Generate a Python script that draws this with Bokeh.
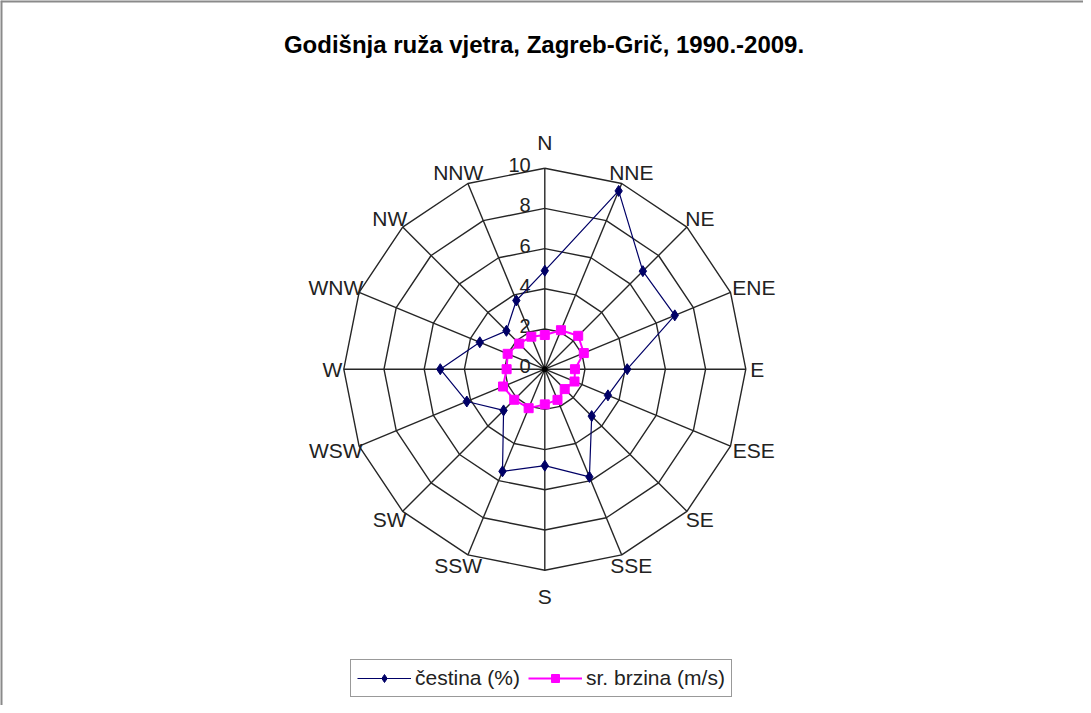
import numpy as np
from bokeh.plotting import figure
from bokeh.models import Range1d, Label, Legend, LegendItem, Span
from bokeh.core.properties import value
from bokeh.embed import file_html
from bokeh.resources import INLINE

# ---- data ----
directions = ["N", "NNE", "NE", "ENE", "E", "ESE", "SE", "SSE",
              "S", "SSW", "SW", "WSW", "W", "WNW", "NW", "NNW"]
cestina = [4.9, 9.6, 6.9, 7.0, 4.1, 3.4, 3.3, 5.8,
           4.8, 5.5, 2.9, 4.2, 5.2, 3.5, 2.7, 3.7]
brzina = [1.7, 2.1, 2.35, 2.1, 1.5, 1.6, 1.4, 1.65,
          1.75, 2.1, 2.15, 2.25, 1.9, 2.0, 1.8, 1.75]
ticks = [0, 2, 4, 6, 8, 10]
title_text = "Godišnja ruža vjetra, Zagreb-Grič, 1990.-2009."
series_names = ["čestina (%)", "sr. brzina (m/s)"]

# ---- layout ----
W, H = 1083, 705
PX = 20.1            # pixels per unit
cx_px, cy_px = 544.3, 368.7   # center in figure pixels (from left, from top)
rmax = ticks[-1]

x0 = -cx_px / PX
x1 = (W - cx_px) / PX
y1 = cy_px / PX
y0 = -(H - cy_px) / PX

p = figure(width=W, height=H, output_backend="svg", toolbar_location=None,
           x_range=Range1d(x0, x1), y_range=Range1d(y0, y1),
           min_border=0, background_fill_color="white", border_fill_color="white")
p.xaxis.visible = False
p.yaxis.visible = False
p.grid.visible = False
p.outline_line_color = None

n = len(directions)
theta = np.arange(n) * 2 * np.pi / n   # clockwise from north
sx, sy = np.sin(theta), np.cos(theta)

grid_col = "#262626"
ring_xs, ring_ys = [], []
for t in ticks[1:]:
    ring_xs.append(list(np.append(sx * t, sx[0] * t)))
    ring_ys.append(list(np.append(sy * t, sy[0] * t)))
p.multi_line(ring_xs, ring_ys, line_color=grid_col, line_width=1.4)
p.segment(x0=np.zeros(n), y0=np.zeros(n), x1=sx * rmax, y1=sy * rmax,
          line_color=grid_col, line_width=1.4)

# tick labels along the north spoke
p.text(x=[-0.7] * len(ticks), y=[t + 0.15 for t in ticks], text=[str(t) for t in ticks],
       text_align="right", text_baseline="middle", text_font=value("Liberation Sans"),
       text_font_size="20px", text_color="#222222")

# direction labels
lab_font = 21
char_w = 0.66 * lab_font
half_h = 0.36 * lab_font
lx, ly = [], []
for i, d in enumerate(directions):
    gap = 0.22 + (0.7 if abs(sy[i]) > 0.99 else 0.0)
    hw = len(d) * char_w / 2 / PX
    hh = half_h / PX
    lx.append(sx[i] * (rmax + gap) + sx[i] * hw)
    ly.append(sy[i] * (rmax + gap) + sy[i] * hh)
p.text(x=lx, y=ly, text=directions, text_align="center", text_baseline="middle",
       text_font=value("Liberation Sans"), text_font_size=f"{lab_font}px", text_color="#222222")

# series
c = np.array(cestina)
b = np.array(brzina)
cx_ = list(np.append(c * sx, c[0] * sx[0]))
cy_ = list(np.append(c * sy, c[0] * sy[0]))
bx_ = list(np.append(b * sx, b[0] * sx[0]))
by_ = list(np.append(b * sy, b[0] * sy[0]))

navy = "#000066"
mag = "#ff00ff"
l1 = p.line(cx_, cy_, line_color=navy, line_width=1.2)
m1 = p.scatter(c * sx, c * sy, marker="diamond", size=11, fill_color=navy, line_color=navy)
l2 = p.line(bx_, by_, line_color=mag, line_width=2)
m2 = p.scatter(b * sx, b * sy, marker="square", size=9, fill_color=mag, line_color=mag)

p.scatter([0], [0], marker="circle", size=5, fill_color="black", line_color="black")

legend = Legend(items=[LegendItem(label=series_names[0], renderers=[l1, m1]),
                       LegendItem(label=series_names[1], renderers=[l2, m2])],
                orientation="horizontal", location=(350, 8),
                border_line_color="#333333", border_line_width=1.5,
                label_text_font="Liberation Sans", label_text_font_size="21px",
                label_text_color="#222222",
                glyph_width=54, glyph_height=20, padding=6, spacing=8,
                label_standoff=4, margin=0, background_fill_alpha=1)
p.add_layout(legend, "center")

# title
p.add_layout(Label(x=543.5, y=H - 44, x_units="screen", y_units="screen", text=title_text,
                   text_align="center", text_baseline="middle",
                   text_font="Liberation Sans", text_font_style="bold",
                   text_font_size="24px", text_color="black"))

# chart-area border (top and left visible)
p.add_layout(Span(location=y1, dimension="width", line_color="#8a8a8a", line_width=4))
p.add_layout(Span(location=x0, dimension="height", line_color="#8a8a8a", line_width=4))

open("out.html", "w").write(file_html(p, INLINE))
